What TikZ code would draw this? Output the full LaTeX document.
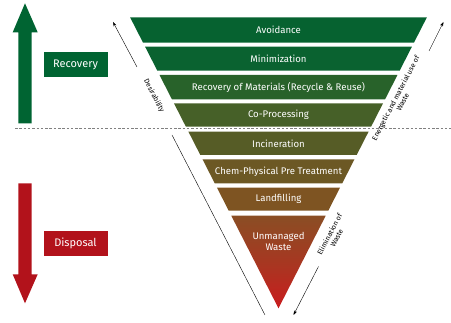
\documentclass[tikz,border=0pt]{standalone}
\usepackage{fontspec}
\setmainfont{Fira Sans}
\usepackage{xcolor}
\usetikzlibrary{arrows.meta}

\definecolor{avoidgreen}{RGB}{6,98,48}
\definecolor{mingreen}{RGB}{10,98,48}
\definecolor{recgreen}{RGB}{40,98,42}
\definecolor{coolive}{RGB}{70,96,40}
\definecolor{incolive}{RGB}{86,92,38}
\definecolor{chembrown}{RGB}{108,88,36}
\definecolor{landbrown}{RGB}{126,84,34}
\definecolor{wastetop}{RGB}{138,78,36}
\definecolor{wastered}{RGB}{202,28,30}
\definecolor{recovgreen}{RGB}{0,100,50}
\definecolor{disposred}{RGB}{178,18,27}

\begin{document}
\begin{tikzpicture}[x=1pt,y=-1pt,
    bandtext/.style={text=white,font=\fontsize{9.6}{11}\selectfont,align=center},
    sidetext/.style={font=\fontsize{7.1}{7.9}\selectfont,align=center,inner sep=0pt},
    tagbox/.style={fill=#1,text=white,minimum width=64pt,minimum height=24.5pt,
      inner sep=0pt,font=\fontsize{11}{12}\selectfont},
    thinarrow/.style={-{Stealth[length=4.5pt,width=3pt]},thin}]
  \useasboundingbox (0,0) rectangle (451,323);

  % the funnel
  \foreach \t/\b/\c/\n/\lbl in {17.3/42.7/avoidgreen/avoid/Avoidance,
      46.7/70.7/mingreen/minim/Minimization,
      75/99.3/recgreen/recmat/Recovery of Materials (Recycle \& Reuse),
      103.3/126.7/coolive/copro/Co-Processing,
      131.7/155/incolive/incin/Incineration,
      159.3/183.3/chembrown/chem/Chem-Physical Pre Treatment,
      187.7/210.7/landbrown/landf/Landfilling} {
    \fill[\c] ({278.5-0.51*(308.3-\t)},\t) -- ({278.5+0.51*(308.3-\t)},\t)
      -- ({278.5+0.51*(308.3-\b)},\b) -- ({278.5-0.51*(308.3-\b)},\b) -- cycle;
    \node[bandtext] (\n) at (278.5,{(\t+\b)/2}) {\lbl};
  }
  \shade[top color=wastetop,bottom color=wastered,middle color=wastetop!55!wastered]
    ({278.5-0.51*(308.3-215.7)},215.7) -- ({278.5+0.51*(308.3-215.7)},215.7)
    -- (278.5,308.3) -- cycle;
  \node[bandtext] (unman) at (278.5,241.5) {Unmanaged\\Waste};

  % recovery / disposal divide
  \draw[gray,dashed,dash pattern=on 2.5pt off 1.8pt] (15,128) -- (451,128);

  % big arrows
  \fill[recovgreen] (18.3,123.3) -- (18.3,32.3) -- (12.7,32.3) -- (25,3.3)
    -- (37.7,32.3) -- (31.7,32.3) -- (31.7,123.3) -- cycle;
  \fill[disposred] (18.3,183.3) -- (18.3,274.3) -- (12.7,274.3) -- (25,303.3)
    -- (37.7,274.3) -- (31.7,274.3) -- (31.7,183.3) -- cycle;
  \node[tagbox=recovgreen] (recov) at (75.5,64.5) {Recovery};
  \node[tagbox=disposred] (dispo) at (75.5,243.3) {Disposal};

  % side labels
  \node[sidetext,rotate=-62.5] (desir) at (154,96) {Desirability};
  \coordinate (desA) at (137,67);
  \coordinate (desB) at (113,22);
  \coordinate (desC) at (172,135);
  \coordinate (desD) at (265,315);
  \draw[thinarrow] (desA) -- (desB);
  \draw[thin] (desC) -- (desD);

  \node[sidetext,rotate=62.5] (energ) at (399,100) {Energetic and material use of\\Waste};
  \coordinate (eneA) at (429,51);
  \coordinate (eneB) at (443.5,22);
  \draw[thinarrow] (eneA) -- (eneB);

  \node[sidetext,rotate=62.5] (elimi) at (333,236) {Elimination of\\Waste};
  \coordinate (eliA) at (318.5,266.5);
  \coordinate (eliB) at (293.5,315);
  \draw[thinarrow] (eliA) -- (eliB);
\end{tikzpicture}
\end{document}
